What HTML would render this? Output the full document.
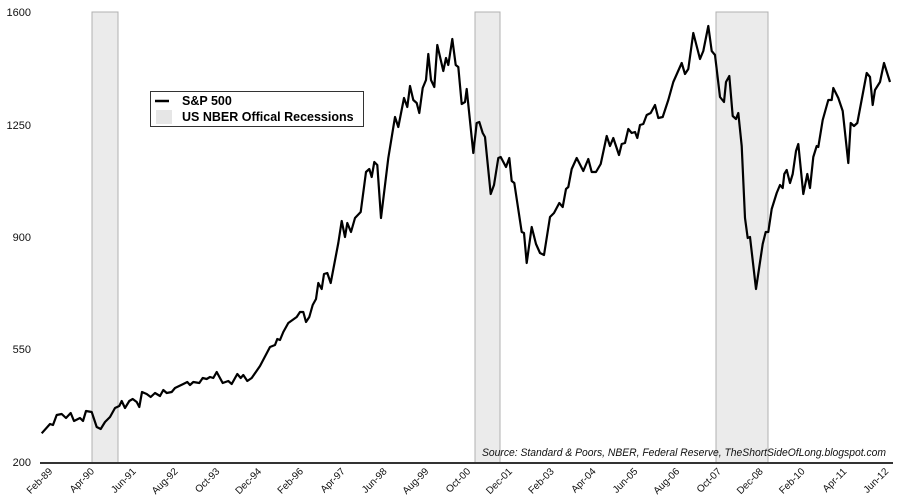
<!DOCTYPE html>
<html><head><meta charset="utf-8"><style>
html,body{margin:0;padding:0;background:#fff;}
svg{display:block;font-family:"Liberation Sans",sans-serif;}
</style></head><body>
<svg width="900" height="504" viewBox="0 0 900 504">
<rect x="92" y="12" width="26" height="451" fill="#ebebeb" stroke="#b0b0b0" stroke-width="1"/>
<rect x="475" y="12" width="25" height="451" fill="#ebebeb" stroke="#b0b0b0" stroke-width="1"/>
<rect x="716" y="12" width="52" height="451" fill="#ebebeb" stroke="#b0b0b0" stroke-width="1"/>
<g font-size="11" fill="#111" text-anchor="end">
<text x="31" y="16">1600</text>
<text x="31" y="129">1250</text>
<text x="31" y="241">900</text>
<text x="31" y="353">550</text>
<text x="31" y="466">200</text>
</g>
<line x1="40" y1="463" x2="893" y2="463" stroke="#333" stroke-width="2"/>
<text x="482" y="456" font-size="11" font-style="italic" fill="#111" textLength="404" lengthAdjust="spacingAndGlyphs">Source: Standard &amp; Poors, NBER, Federal Reserve, TheShortSideOfLong.blogspot.com</text>
<polyline fill="none" stroke="#000" stroke-width="2.2" stroke-linejoin="round" points="41.7,433.3 50,424 53,425 56.7,415 61.7,414 66,418 70.7,413 74,421 80,418 83,421 86,411 91.7,412 96.7,427 100.7,429 105,422 110,417 115,408 119.3,406 121.7,401 125,408 129.3,401 132.7,399 136.7,402 139.3,407 142,392 146.7,394 150.7,397 155,393 160,396 163.3,390 166.7,393 171.7,392 175,388 183.3,384 187.3,382 190,385 193.3,382 199.3,383 202.7,378 206.7,379 210,377 213.3,378 216.7,372 222.7,383 228.3,381 231.7,384 237.3,374 240.7,378 243.3,375 247.3,381 251.7,378 260,366 270,347 275,345 277.3,339 280,340 283.3,332 288.3,323 296.7,317 300,312 303.3,312 306,322 309.3,317 312.7,305 316,299 318.3,283 321.7,289 324,274 327.3,273 330.7,283 338.3,243 341.7,221 345,237 347.3,223 351,232 355,218 360.7,212 366,172 369.3,169 371.7,177 374.3,162 377.3,165 381,218 388.3,158 395,117 398.3,127 404,98 407.3,107 410,86 413.3,100 416.7,103 419.3,113 422.7,88 426,80 428.3,54 431,80 434.3,87 437.3,45 443.3,71 446,58 448.3,65 452.3,39 455.7,65 458.3,67 461.7,104 465,102 466.7,89 473.3,153 476.7,123 479.3,122 482.7,133 485,137 490.7,194 494,185 498.3,158 500.7,157 506,167 509.3,158 511.7,181 514.3,183 521.7,232 524,233 526.7,263 531.7,227 536,244 540,253 544,255 550,217 554,213 559.3,203 562.7,207 566,189 568.3,187 571.7,169 576.7,158 583.3,171 588.3,159 591.7,172 596,172 600.7,164 606.7,136 610,146 613.3,138 619,155 621.7,144 625,143 628.3,129 631.7,133 635,132 637.3,138 640,125 643.3,124 646.7,115 650.7,113 655,105 658.3,118 662.7,117 668.3,100 673.3,82 681.7,63 685,74 688.3,69 693.3,33 700,59 703.3,51 708.3,26 711.7,51 715,55 720,97 724,102 726,82 729.3,76 732.7,116 736,119 738.3,113 741.7,146 745,218 747.7,238 750,237 756,289 762.7,244 765.7,232 768.3,232 771.7,209 776.7,193 780,185 782.7,188 784.3,174 786.7,170 790,183 792.7,174 796,151 798.3,144 803.3,194 807.3,174 810,188 813.3,157 816.7,146 818.3,147 822.7,120 828.3,100 831.7,100 833.3,88 838.3,98 842.7,111 848.3,163 850.7,123 854,126 857.3,123 866.7,73 870,77 872.7,105 875,90 880,82 884,63 890,82"/>
<rect x="150.5" y="91.5" width="213" height="35" fill="#fff" stroke="#333" stroke-width="1"/>
<line x1="155" y1="101" x2="169" y2="101" stroke="#000" stroke-width="2.5"/>
<rect x="156" y="110" width="16" height="14" fill="#e6e6e6"/>
<text x="182" y="105" font-size="12.5" font-weight="bold" fill="#000">S&amp;P 500</text>
<text x="182" y="121" font-size="12.5" font-weight="bold" fill="#000">US NBER Offical Recessions</text>
<g font-size="10" fill="#111" text-anchor="end">
<text transform="translate(53,472) rotate(-45)">Feb-89</text>
<text transform="translate(94.8,472) rotate(-45)">Apr-90</text>
<text transform="translate(136.6,472) rotate(-45)">Jun-91</text>
<text transform="translate(178.4,472) rotate(-45)">Aug-92</text>
<text transform="translate(220.2,472) rotate(-45)">Oct-93</text>
<text transform="translate(262,472) rotate(-45)">Dec-94</text>
<text transform="translate(303.8,472) rotate(-45)">Feb-96</text>
<text transform="translate(345.6,472) rotate(-45)">Apr-97</text>
<text transform="translate(387.4,472) rotate(-45)">Jun-98</text>
<text transform="translate(429.2,472) rotate(-45)">Aug-99</text>
<text transform="translate(471,472) rotate(-45)">Oct-00</text>
<text transform="translate(512.8,472) rotate(-45)">Dec-01</text>
<text transform="translate(554.6,472) rotate(-45)">Feb-03</text>
<text transform="translate(596.4,472) rotate(-45)">Apr-04</text>
<text transform="translate(638.2,472) rotate(-45)">Jun-05</text>
<text transform="translate(680,472) rotate(-45)">Aug-06</text>
<text transform="translate(721.8,472) rotate(-45)">Oct-07</text>
<text transform="translate(763.6,472) rotate(-45)">Dec-08</text>
<text transform="translate(805.4,472) rotate(-45)">Feb-10</text>
<text transform="translate(847.2,472) rotate(-45)">Apr-11</text>
<text transform="translate(889,472) rotate(-45)">Jun-12</text>
</g>
</svg>
</body></html>
